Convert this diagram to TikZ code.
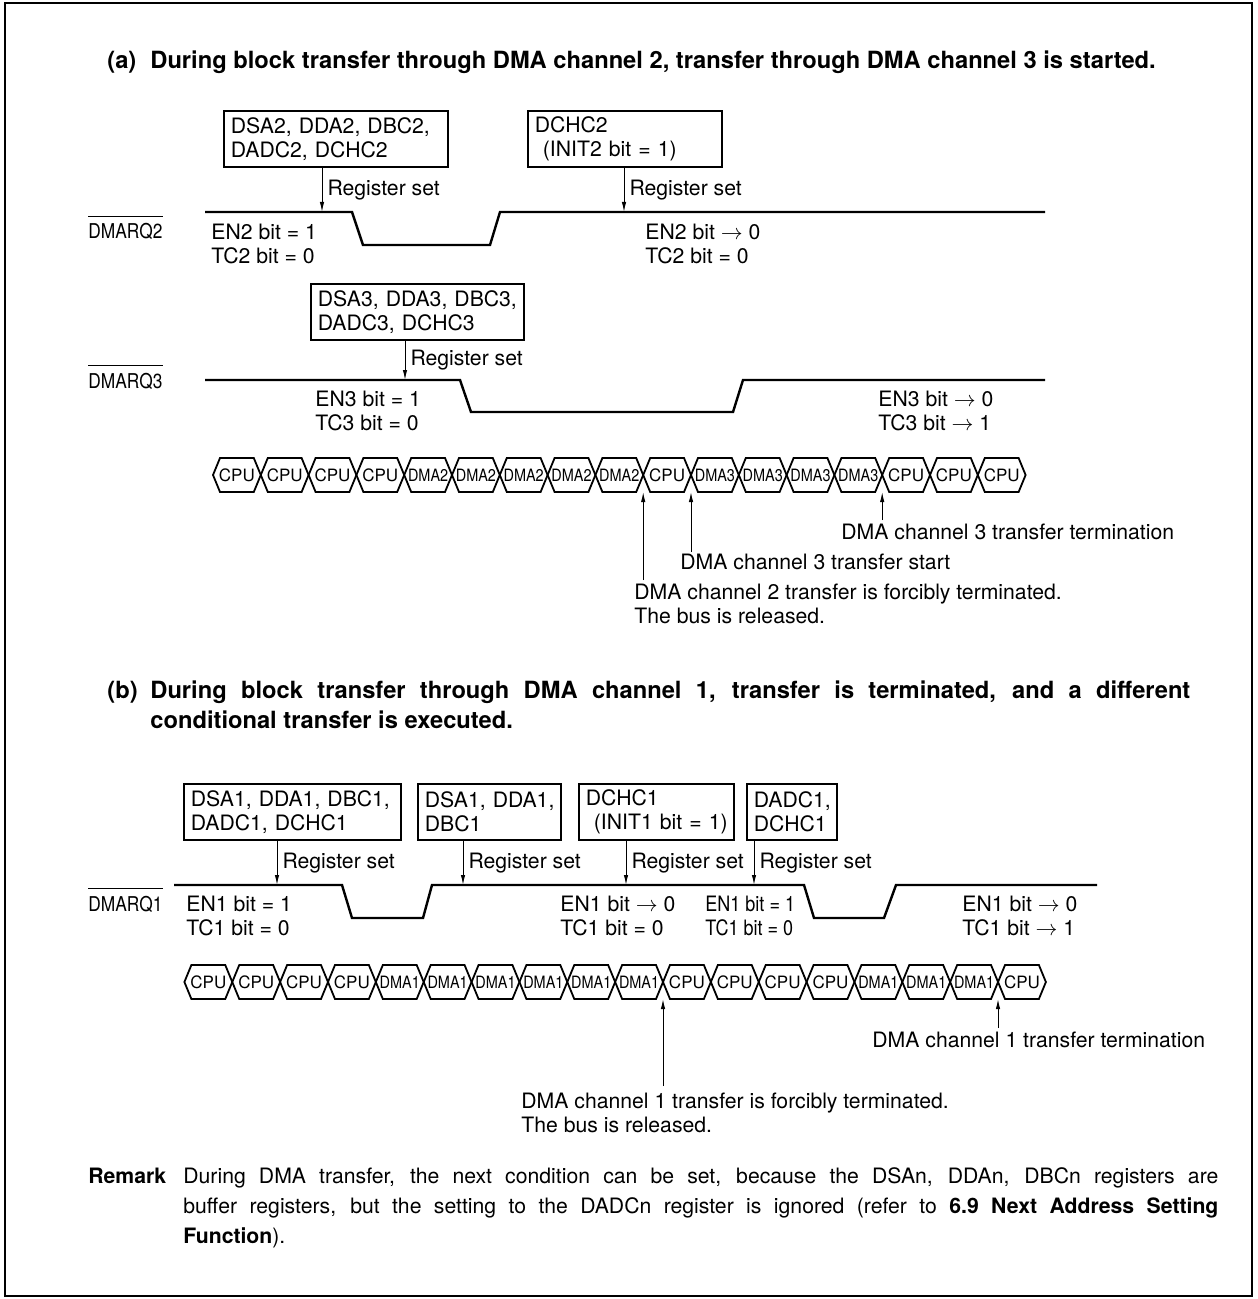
\documentclass[tikz,border=0pt]{standalone}
\usepackage{fontspec}
\setmainfont{TeX Gyre Heros}
\usepackage{graphicx}
\usepackage{tikz}
\usetikzlibrary{arrows.meta,positioning}
\newcommand{\condtxt}[1]{\scalebox{0.85}[1]{#1}}

\begin{document}
\begin{tikzpicture}[
    x=0.5pt, y=-0.5pt,
    every node/.style={font=\fontsize{10.6}{12}\selectfont, inner sep=0pt},
    regbox/.style={draw, line width=0.9pt, anchor=north west, align=left, inner xsep=3.5pt, minimum height=28pt},
    sig/.style={line width=1.2pt, line join=miter},
    signame/.style={anchor=base west, font=\fontsize{10.2}{11}\selectfont},
    regset/.style={-{Latex[length=5pt,width=2.2pt]}, line width=0.5pt},
    evt/.style={-{Latex[length=5pt,width=2.2pt]}, line width=0.5pt},
    cell/.style={line width=0.9pt, line join=miter},
    celltxt/.style={font=\fontsize{8.5}{9}\selectfont},
    lbl/.style={anchor=base west, align=left},
    ttl/.style={font=\fontsize{11.85}{15}\selectfont\bfseries, anchor=base west},
  ]
  \useasboundingbox (0,0) rectangle (1257,1299);
  \draw[line width=1pt] (5,3) rectangle (1252,1296);

  % (a) channel 2 / channel 3
  \node[ttl] (ttlA) at (107,68.5) {(a)};
  \node[ttl] (ttlAtxt) at (150,68.5) {During block transfer through DMA channel 2, transfer through DMA channel 3 is started.};

  \node[regbox, text width=105pt] (bxA1) at (223,110) {DSA2,~DDA2,~DBC2,\\DADC2,~DCHC2};
  \node[regbox, text width=90pt] (bxA2) at (527,110) {DCHC2\\\hspace*{4pt}(INIT2~bit~=~1)};
  \coordinate (setA1) at (322,212);
  \coordinate (setA2) at (624,212);
  \draw[regset] (setA1 |- bxA1.south) -- node[right=2.5pt] (rsA1) {Register set} (setA1);
  \draw[regset] (setA2 |- bxA2.south) -- node[right=2.5pt] (rsA2) {Register set} (setA2);

  \draw[sig] (205,212) -- (352,212) -- (363,245) -- (490,245) -- (500,212) -- (1045,212);
  \node[signame] (nmA2) at (88,239) {\condtxt{DMARQ2}};
  \draw[line width=0.5pt] ([yshift=3.5pt]nmA2.north west) -- ([yshift=3.5pt]nmA2.north east);
  % two-line labels: base is the last line
  \node[lbl] (stA2a) at (211,263.5) {EN2 bit = 1\\TC2 bit = 0};
  \node[lbl] (stA2b) at (645,263.5) {EN2 bit $\rightarrow$ 0\\TC2 bit = 0};

  \node[regbox, text width=99.5pt] (bxA3) at (310,283) {DSA3,~DDA3,~DBC3,\\DADC3,~DCHC3};
  \coordinate (setA3) at (405,380);
  \draw[regset] (setA3 |- bxA3.south) -- node[right=2.5pt] (rsA3) {Register set} (setA3);

  \draw[sig] (205,380) -- (460,380) -- (471,412) -- (733,412) -- (743,380) -- (1045,380);
  \node[signame] (nmA3) at (88,388.5) {\condtxt{DMARQ3}};
  \draw[line width=0.5pt] ([yshift=3.5pt]nmA3.north west) -- ([yshift=3.5pt]nmA3.north east);
  \node[lbl] (stA3a) at (315,430.5) {EN3 bit = 1\\TC3 bit = 0};
  \node[lbl] (stA3b) at (878,430.5) {EN3 bit $\rightarrow$ 0\\TC3 bit $\rightarrow$ 1};

  % bus cycles (a)
  \foreach \lbl [count=\i from 0] in {CPU,CPU,CPU,CPU,\condtxt{DMA2},\condtxt{DMA2},\condtxt{DMA2},\condtxt{DMA2},\condtxt{DMA2},CPU,\condtxt{DMA3},\condtxt{DMA3},\condtxt{DMA3},\condtxt{DMA3},CPU,CPU,CPU} {
    \pgfmathsetmacro{\xl}{213+47.8*\i}
    \draw[cell] (\xl,475) -- ({\xl+7},458) -- ({\xl+40.8},458) -- ({\xl+47.8},475) -- ({\xl+40.8},492) -- ({\xl+7},492) -- cycle;
    \node[celltxt] (busA\i) at ({\xl+23.9},475) {\lbl};
  }

  \coordinate (xA9) at (643.2,492);
  \coordinate (xA10) at (691,492);
  \coordinate (xA14) at (882.2,492);
  \coordinate (tA9) at (643.2,580);
  \coordinate (tA10) at (691,552);
  \coordinate (tA14) at (882.2,520);
  \draw[evt] (tA9) -- (xA9);
  \draw[evt] (tA10) -- (xA10);
  \draw[evt] (tA14) -- (xA14);
  \node[lbl] (evA14) at (841,539.5) {DMA channel 3 transfer termination};
  \node[lbl] (evA10) at (680,569.5) {DMA channel 3 transfer start};
  \node[lbl] (evA9) at (634,623.5) {DMA channel 2 transfer is forcibly terminated.\\The bus is released.};

  % (b) channel 1
  \node[ttl] (ttlB) at (107,698.5) {(b)};
  \node[ttl, text width=520pt, align=justify] (ttlBtxt) at (150,698.5) {During block transfer through DMA channel 1, transfer is terminated, and a different\linebreak conditional transfer is executed.};

  \node[regbox, text width=101.5pt] (bxB1) at (183,783) {DSA1,~DDA1,~DBC1,\\DADC1,~DCHC1};
  \node[regbox, text width=64.5pt] (bxB2) at (417,783) {DSA1,~DDA1,\\DBC1};
  \node[regbox, text width=70.5pt] (bxB3) at (578,783) {DCHC1\\\hspace*{4pt}(INIT1~bit~=~1)};
  \node[regbox, text width=38pt] (bxB4) at (746,783) {DADC1,\\DCHC1};
  \coordinate (setB1) at (277,885);
  \coordinate (setB2) at (463,885);
  \coordinate (setB3) at (626,885);
  \coordinate (setB4) at (754,885);
  \draw[regset] (setB1 |- bxB1.south) -- node[right=2.5pt] (rsB1) {Register set} (setB1);
  \draw[regset] (setB2 |- bxB2.south) -- node[right=2.5pt] (rsB2) {Register set} (setB2);
  \draw[regset] (setB3 |- bxB3.south) -- node[right=2.5pt] (rsB3) {Register set} (setB3);
  \draw[regset] (setB4 |- bxB4.south) -- node[right=2.5pt] (rsB4) {Register set} (setB4);

  \draw[sig] (174,885) -- (342,885) -- (352,918) -- (423,918) -- (432,885) -- (804,885) -- (814,918) -- (884,918) -- (896,885) -- (1097,885);
  \node[signame] (nmB1) at (88,911) {\condtxt{DMARQ1}};
  \draw[line width=0.5pt] ([yshift=3.5pt]nmB1.north west) -- ([yshift=3.5pt]nmB1.north east);
  \node[lbl] (stB1a) at (186,935.5) {EN1 bit = 1\\TC1 bit = 0};
  \node[lbl] (stB1b) at (560,935.5) {EN1 bit $\rightarrow$ 0\\TC1 bit = 0};
  \node[lbl] (stB1c) at (705,935.5) {\condtxt{EN1 bit = 1}\\\condtxt{TC1 bit = 0}};
  \node[lbl] (stB1d) at (962,935.5) {EN1 bit $\rightarrow$ 0\\TC1 bit $\rightarrow$ 1};

  % bus cycles (b)
  \foreach \lbl [count=\i from 0] in {CPU,CPU,CPU,CPU,\condtxt{DMA1},\condtxt{DMA1},\condtxt{DMA1},\condtxt{DMA1},\condtxt{DMA1},\condtxt{DMA1},CPU,CPU,CPU,CPU,\condtxt{DMA1},\condtxt{DMA1},\condtxt{DMA1},CPU} {
    \pgfmathsetmacro{\xl}{184.4+47.86*\i}
    \draw[cell] (\xl,982) -- ({\xl+7},965) -- ({\xl+40.86},965) -- ({\xl+47.86},982) -- ({\xl+40.86},999) -- ({\xl+7},999) -- cycle;
    \node[celltxt] (busB\i) at ({\xl+23.93},982) {\lbl};
  }

  \coordinate (xB10) at (663,999);
  \coordinate (xB17) at (998,999);
  \coordinate (tB10) at (663,1086);
  \coordinate (tB17) at (998,1028);
  \draw[evt] (tB10) -- (xB10);
  \draw[evt] (tB17) -- (xB17);
  \node[lbl] (evB17) at (872,1047.5) {DMA channel 1 transfer termination};
  \node[lbl] (evB10) at (521,1132.5) {DMA channel 1 transfer is forcibly terminated.\\The bus is released.};

  % Remark
  \node[lbl, font=\fontsize{10.6}{15}\selectfont\bfseries] (rmk) at (88,1183.5) {Remark};
  \node[lbl, font=\fontsize{10.6}{15}\selectfont, text width=517.5pt, align=justify] (rmktxt) at (183,1183.5) {During DMA transfer, the next condition can be set, because the DSAn, DDAn, DBCn registers are\linebreak buffer registers, but the setting to the DADCn register is ignored (refer to \textbf{6.9 Next Address Setting}\linebreak \textbf{Function}).};
\end{tikzpicture}
\end{document}
